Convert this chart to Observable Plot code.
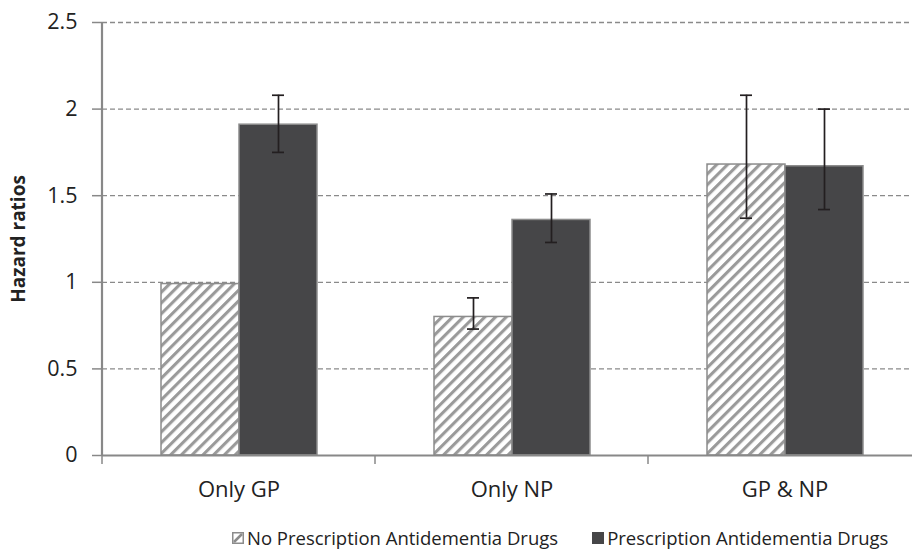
<!DOCTYPE html>
<html><head><meta charset="utf-8">
<script src="https://cdn.jsdelivr.net/npm/d3@7"></script>
<script src="https://cdn.jsdelivr.net/npm/@observablehq/plot@0.6"></script>
<style>
body{margin:0;background:#fff;}
#chart{width:912px;height:558px;position:relative;font-family:"Open Sans",sans-serif;overflow:hidden;}
#chart svg [aria-label="y-axis label"]{font-weight:bold;font-size:19px;}
.legend{display:flex;justify-content:flex-start;align-items:center;height:43px;font-size:18.5px;color:#222;padding-left:232px;padding-top:2px;box-sizing:border-box;width:912px;white-space:nowrap;}
.item{display:flex;align-items:center;margin:0 34px 0 0;flex-shrink:0;white-space:nowrap;}
.item svg{margin-right:3px;flex-shrink:0;}
</style></head><body><div id="chart"></div>
<script>
const categories = ["Only GP", "Only NP", "GP & NP"];
const series = ["No Prescription Antidementia Drugs", "Prescription Antidementia Drugs"];
const noPrescHR = [0.99, 0.80, 1.68];
const noPrescLo = [null, 0.73, 1.37];
const noPrescHi = [null, 0.91, 2.08];
const prescHR = [1.91, 1.36, 1.67];
const prescLo = [1.75, 1.23, 1.42];
const prescHi = [2.08, 1.51, 2.00];
const yTicks = [0, 0.5, 1, 1.5, 2, 2.5];
const yTickLabels = ["0", "0.5", "1", "1.5", "2", "2.5"];
const seriesFill = ["url(#hatch)", "#464648"];

const rows = [];
categories.forEach((c, i) => {
  rows.push({cat: c, series: series[0], hr: noPrescHR[i], lo: noPrescLo[i], hi: noPrescHi[i]});
  rows.push({cat: c, series: series[1], hr: prescHR[i], lo: prescLo[i], hi: prescHi[i]});
});
const errRows = rows.filter(d => d.lo != null);

const font = '"Open Sans", sans-serif';
const plot = Plot.plot({
  width: 912, height: 515,
  marginLeft: 102, marginRight: -9, marginTop: 22, marginBottom: 60,
  style: {fontFamily: font, fontSize: "20px", color: "#222", background: "transparent", overflow: "visible"},
  fx: {domain: categories, padding: 0, label: null},
  x: {domain: series, paddingInner: 0, paddingOuter: 0.739, axis: null},
  y: {domain: [0, 2.5]},
  color: {domain: series, range: seriesFill},
  marks: [
    Plot.gridY(yTicks.slice(1), {stroke: "#8a8a8a", strokeOpacity: 1, strokeDasharray: "5,3", strokeWidth: 1.3}),
    Plot.barY(rows, {fx: "cat", x: "series", y: "hr", fill: "series", stroke: "#8c8c8c", strokeWidth: 1.5}),
    Plot.ruleX(errRows, {fx: "cat", x: "series", y1: "lo", y2: "hi", stroke: "#231f20", strokeWidth: 1.7}),
    Plot.tickY(errRows, {fx: "cat", x: "series", y: "lo", stroke: "#231f20", strokeWidth: 1.7, insetLeft: 33, insetRight: 33}),
    Plot.tickY(errRows, {fx: "cat", x: "series", y: "hi", stroke: "#231f20", strokeWidth: 1.7, insetLeft: 33, insetRight: 33}),
    Plot.ruleY([0], {stroke: "#888", strokeWidth: 2.2}),
    Plot.axisY(yTicks, {tickSize: 10, tickPadding: 15, stroke: "#888", strokeWidth: 1.5, fill: "#222", fontSize: 21.5,
      tickFormat: d => yTickLabels[yTicks.indexOf(d)],
      label: "Hazard ratios", labelAnchor: "center", labelArrow: "none", labelOffset: 91}),
    Plot.axisFx({anchor: "bottom", tickSize: 0, tickPadding: 26, fontSize: 22, fill: "#222", label: null})
  ]
});

const svg = d3.select(plot);
svg.insert("defs", ":first-child").html(
  '<pattern id="hatch" patternUnits="userSpaceOnUse" width="7.6" height="7.6" patternTransform="rotate(45)">' +
  '<rect width="7.6" height="7.6" fill="#fff"/><rect width="3.1" height="7.6" fill="#9a9a9a"/></pattern>');
svg.selectAll('[aria-label="y-axis label"] text').text("Hazard ratios");

// axis line and category boundary ticks from the library's scales
const fx = plot.scale("fx"), y = plot.scale("y");
const y0 = y.apply(0), yTop = y.apply(2.5);
const x0 = fx.apply(categories[0]);
svg.append("line").attr("x1", x0).attr("x2", x0).attr("y1", yTop).attr("y2", y0 + 1)
  .attr("stroke", "#888").attr("stroke-width", 2.2);
categories.forEach(c => {
  const xb = fx.apply(c);
  svg.append("line").attr("x1", xb).attr("x2", xb).attr("y1", y0).attr("y2", y0 + 9)
    .attr("stroke", "#888").attr("stroke-width", 1.5);
});

const chart = document.getElementById("chart");
chart.appendChild(plot);
const legend = d3.select(chart).append("div").attr("class", "legend");
series.forEach((s, i) => {
  const it = legend.append("div").attr("class", "item");
  const sw = it.append("svg").attr("width", 12).attr("height", 12);
  sw.append("rect").attr("x", 0.75).attr("y", 0.75).attr("width", 10.5).attr("height", 10.5)
    .attr("fill", i === 0 ? "#fff" : seriesFill[1]).attr("stroke", i === 0 ? "#8c8c8c" : seriesFill[1]).attr("stroke-width", 1.5);
  if (i === 0) sw.append("line").attr("x1", 2).attr("y1", 10).attr("x2", 10).attr("y2", 2).attr("stroke", "#8c8c8c").attr("stroke-width", 2.5);
  it.append("span").text(s);
});
</script></body></html>
